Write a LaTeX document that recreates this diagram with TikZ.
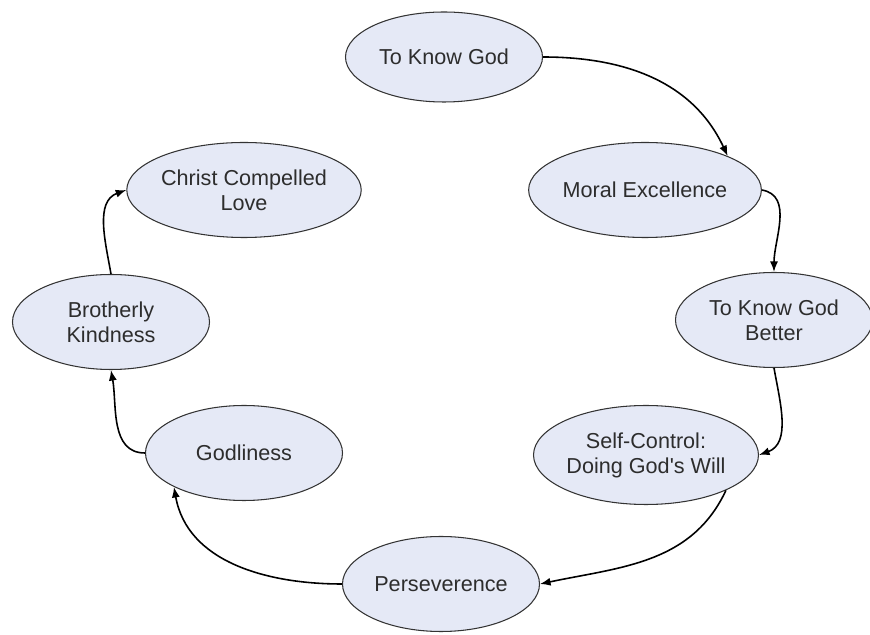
\documentclass[tikz,border=0pt]{standalone}
\usepackage{fontspec}
\setmainfont{Liberation Sans}
\usepackage{xcolor}
\usepackage{tikz}
\usetikzlibrary{calc,arrows,arrows.meta,shapes,positioning}

\definecolor{bubfill}{RGB}{229,233,246}
\definecolor{bubtext}{RGB}{45,45,45}

\tikzset{
  bub/.style={ellipse,draw=black!80,line width=0.6pt,fill=bubfill,text=bubtext,
    minimum width=3.94cm,minimum height=1.9cm,inner sep=0pt,align=center,
    font=\fontsize{12.3}{14.3}\selectfont},
  link/.style={-{Latex[length=6pt,width=4.6pt]},line width=0.9pt}
}

\begin{document}
\begin{tikzpicture}
\useasboundingbox (0,0) rectangle (17.4,12.7);

\node[bub,minimum height=1.8cm] (know) at (8.88,11.56) {To Know God};% top
\node[bub] (moral) at (12.9,8.9) {Moral Excellence};
\node[bub] (better) at (15.48,6.3) {To Know God\\Better};
\node[bub,minimum height=1.98cm] (self) at (12.92,3.6) {Self-Control:\\Doing God\textquotesingle s Will};
\node[bub] (perse) at (8.82,1.02) {Perseverence};% bottom
\node[bub] (godly) at (4.88,3.64) {Godliness};
\node[bub] (broth) at (2.22,6.26) {Brotherly\\Kindness};
\node[bub] (christ) at (4.88,8.9) {Christ Compelled\\Love};

% the cycle, clockwise
\draw[link] (know.east) to[out=0,in=115] (moral.north east);
\draw[link] (moral.east) to[out=-10,in=90] (better.north);
\draw[link] (better.south) to[out=-80,in=20] (self.east);
\draw[link] (self.south east) to[out=-115,in=12] (perse.east);
\draw[link] (perse.west) to[out=180,in=-80] (godly.south west);
\draw[link] (godly.west) to[out=180,in=-80] (broth.south);
\draw[link] (broth.north) to[out=100,in=200] (christ.west);

\end{tikzpicture}
\end{document}
